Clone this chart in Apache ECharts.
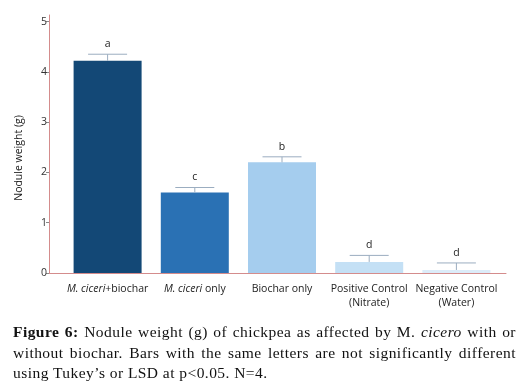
<!DOCTYPE html>
<html>
<head>
<meta charset="utf-8">
<script src="https://cdn.jsdelivr.net/npm/echarts@6/dist/echarts.min.js"></script>
<style>
html,body{margin:0;padding:0;background:#fff;}
#chart{position:absolute;left:0;top:0;width:529px;height:390px;}
#caption{position:absolute;left:13px;top:322px;width:503px;font-family:"Liberation Serif",serif;font-size:15.5px;line-height:20.5px;letter-spacing:0.45px;color:#111;}
#caption .j{text-align:justify;text-align-last:justify;white-space:nowrap;}
#caption .l{text-align:left;white-space:nowrap;}
</style>
</head>
<body>
<div id="chart"></div>
<div id="caption"><div class="j"><b>Figure 6:</b> Nodule weight (g) of chickpea as affected by M. <i>cicero</i> with or</div><div class="j">without biochar. Bars with the same letters are not significantly different</div><div class="l">using Tukey’s or LSD at p&lt;0.05. N=4.</div></div>
<script>
var categories = ['{i|M. ciceri}+biochar', '{i|M. ciceri} only', 'Biochar only', 'Positive Control\n(Nitrate)', 'Negative Control\n(Water)'];
var means = [4.22, 1.60, 2.20, 0.22, 0.06];
var errorTops = [4.35, 1.70, 2.31, 0.35, 0.20];
var letters = ['a', 'c', 'b', 'd', 'd'];
var barColors = ['#134876', '#2a71b4', '#a5cdee', '#c4e0f5', '#dcecf9'];
var yTicks = [0, 1, 2, 3, 4, 5];

var chart = echarts.init(document.getElementById('chart'));
var axisRed = '#d48c8c';
var font = 'Open Sans';
var errData = means.map(function (m, i) { return [i, m, errorTops[i], letters[i]]; });
var yMax = 5.13;

chart.setOption({
  animation: false,
  grid: [
    {left: 49, right: 23, top: 15, bottom: 117},
    {left: 64, right: 29, top: 15, bottom: 117}
  ],
  xAxis: [
    {type: 'value', gridIndex: 0, min: 0, max: 1, axisLine: {show: true, lineStyle: {color: axisRed, width: 1}}, axisTick: {show: false}, axisLabel: {show: false}, splitLine: {show: false}},
    {type: 'category', gridIndex: 1, data: categories, axisLine: {show: false}, axisTick: {show: false},
      axisLabel: {interval: 0, margin: 9, fontFamily: font, fontSize: 10.5, lineHeight: 14, color: '#222',
        rich: {i: {fontStyle: 'italic', fontFamily: font, fontSize: 10.5, color: '#222'}}}}
  ],
  yAxis: [
    {type: 'value', gridIndex: 0, min: 0, max: yMax,
      axisLine: {show: true, lineStyle: {color: axisRed, width: 1}},
      axisTick: {show: true, length: 3, lineStyle: {color: '#888'}, customValues: yTicks},
      axisLabel: {margin: 2, fontFamily: font, fontSize: 10.5, color: '#333', customValues: yTicks},
      splitLine: {show: false},
      name: 'Nodule weight (g)', nameLocation: 'middle', nameGap: 24,
      nameTextStyle: {fontFamily: font, fontSize: 10.5, color: '#222', padding: [0, 28, 0, 0]}},
    {type: 'value', gridIndex: 1, min: 0, max: yMax, show: false}
  ],
  series: [
    {type: 'bar', xAxisIndex: 1, yAxisIndex: 1, barWidth: 68,
      data: means.map(function (v, i) { return {value: v, itemStyle: {color: barColors[i]}}; })},
    {type: 'custom', xAxisIndex: 1, yAxisIndex: 1, data: errData, encode: {x: 0, y: 2}, z: 5,
      renderItem: function (params, api) {
        var i = api.value(0);
        var base = api.coord([i, api.value(1)]);
        var top = api.coord([i, api.value(2)]);
        var half = 19.5;
        var st = {stroke: '#9badc0', lineWidth: 1};
        return {type: 'group', children: [
          {type: 'line', shape: {x1: base[0], y1: base[1], x2: top[0], y2: top[1]}, style: st},
          {type: 'line', shape: {x1: top[0] - half, y1: top[1], x2: top[0] + half, y2: top[1]}, style: st},
          {type: 'text', style: {text: letters[params.dataIndex], x: top[0], y: top[1] - 10, align: 'center', verticalAlign: 'middle', fontFamily: font, fontSize: 10.5, fill: '#222'}}
        ]};
      }}
  ]
});
</script>
</body>
</html>
